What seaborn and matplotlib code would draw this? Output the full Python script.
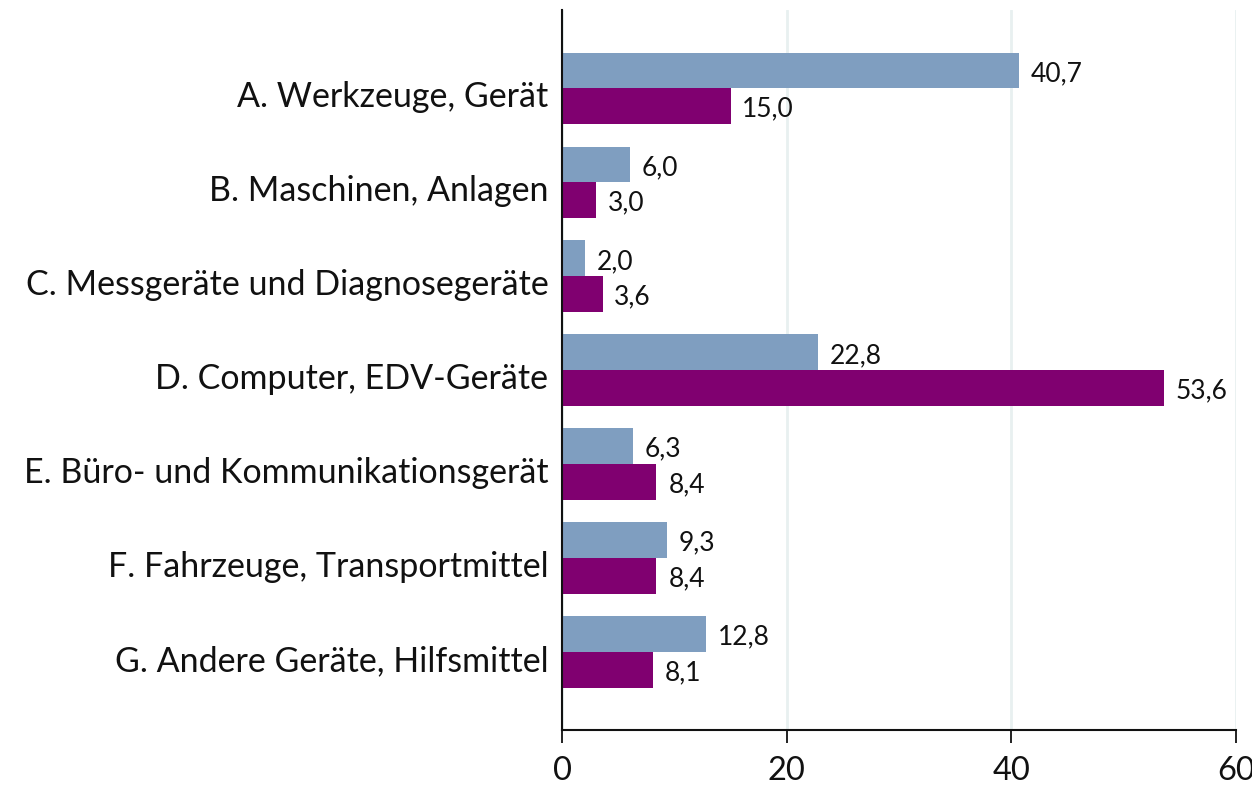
import matplotlib
matplotlib.use("Agg")
import matplotlib.pyplot as plt
import matplotlib.transforms as mtransforms
import seaborn as sns
import pandas as pd

categories = ["A. Werkzeuge, Gerät", "B. Maschinen, Anlagen", "C. Messgeräte und Diagnosegeräte",
              "D. Computer, EDV-Geräte", "E. Büro- und Kommunikationsgerät",
              "F. Fahrzeuge, Transportmittel", "G. Andere Geräte, Hilfsmittel"]
series_names = ["Reihe 1", "Reihe 2"]
values_1 = [40.7, 6.0, 2.0, 22.8, 6.3, 9.3, 12.8]
values_2 = [15.0, 3.0, 3.6, 53.6, 8.4, 8.4, 8.1]
colors = ["#7f9ec0", "#800070"]
x_ticks = [0, 20, 40, 60]

df = pd.DataFrame({
    "Kategorie": categories * 2,
    "Wert": values_1 + values_2,
    "Reihe": [series_names[0]] * len(categories) + [series_names[1]] * len(categories),
})

sns.set_theme(style="white")
plt.rcParams["font.family"] = ["Lato", "DejaVu Sans"]

fig = plt.figure(figsize=(12.52, 7.9), dpi=100)
ax = fig.add_axes([0.449, 0.076, 0.538, 0.911])

sns.barplot(data=df, y="Kategorie", x="Wert", hue="Reihe", palette=colors,
            orient="h", width=0.76, ax=ax, legend=False, saturation=1, errorbar=None,
            linewidth=0)

for cont in ax.containers:
    texts = ax.bar_label(cont, labels=[f"{v:.1f}".replace(".", ",") for v in cont.datavalues],
                         padding=8.5, fontsize=19, color="#111111")
    for t in texts:
        t.set_position((8.5, -2.2))

ax.set_xlim(0, 60)
ax.set_ylim(6.83, -0.83)
ax.set_xticks(x_ticks)
ax.set_xticklabels([str(t) for t in x_ticks])
ax.set_xlabel("")
ax.set_ylabel("")
ax.xaxis.grid(True, color="#e8f0f0", linewidth=2)
ax.set_axisbelow(True)
for s in ["top", "right"]:
    ax.spines[s].set_visible(False)
for s in ["left", "bottom"]:
    ax.spines[s].set_color("#111111")
    ax.spines[s].set_linewidth(1.5)
ax.tick_params(axis="x", length=9.5, width=1.3, color="#111111", labelsize=23.5, pad=9, bottom=True)
ax.tick_params(axis="y", length=0, labelsize=24.5, pad=10)
offset = mtransforms.ScaledTranslation(0, -6 / 100, fig.dpi_scale_trans)
for lbl in ax.get_yticklabels():
    lbl.set_transform(lbl.get_transform() + offset)
for lbl in ax.get_yticklabels() + ax.get_xticklabels():
    lbl.set_color("#111111")

fig.savefig("out.png", dpi=100)
